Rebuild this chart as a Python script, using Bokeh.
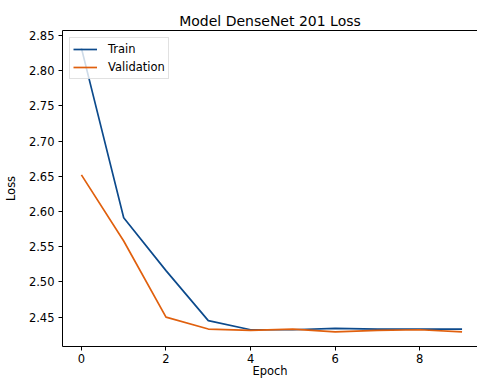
from bokeh.plotting import figure
from bokeh.models import LinearAxis, FixedTicker, Range1d, Legend, LegendItem, NumeralTickFormatter
from bokeh.embed import file_html
from bokeh.resources import INLINE

epochs = [0, 1, 2, 3, 4, 5, 6, 7, 8, 9]
train_loss = [2.832, 2.591, 2.516, 2.445, 2.432, 2.432, 2.434, 2.433, 2.433, 2.433]
val_loss = [2.652, 2.558, 2.450, 2.433, 2.431, 2.433, 2.429, 2.431, 2.432, 2.429]
x_ticks = [0, 2, 4, 6, 8]
y_ticks = [2.45, 2.50, 2.55, 2.60, 2.65, 2.70, 2.75, 2.80, 2.85]

FONT = "DejaVu Sans"

p = figure(width=477, height=380, output_backend="svg", toolbar_location=None,
           x_range=Range1d(-0.447, 9.365), y_range=Range1d(2.4082, 2.857),
           min_border_left=60, min_border_right=0, min_border_top=30, min_border_bottom=0,
           title="Model DenseNet 201 Loss")
p.title.align = "center"
p.title.text_font = FONT
p.title.text_font_size = "14px"
p.title.text_font_style = "normal"
p.title.text_color = "black"
p.title.standoff = 4

p.grid.visible = False
p.outline_line_color = None
p.background_fill_color = "white"
p.border_fill_color = "white"

for ax in [p.xaxis[0], p.yaxis[0]]:
    ax.axis_line_color = "black"
    ax.axis_line_width = 1
    ax.major_tick_line_color = "black"
    ax.major_tick_out = 4
    ax.major_tick_in = 0
    ax.minor_tick_line_color = None
    ax.major_label_text_font = FONT
    ax.major_label_text_font_size = "11.5px"
    ax.major_label_text_color = "black"
    ax.axis_label_text_font = FONT
    ax.axis_label_text_font_size = "11.5px"
    ax.axis_label_text_font_style = "normal"
    ax.axis_label_text_color = "black"

p.xaxis[0].ticker = FixedTicker(ticks=x_ticks)
p.yaxis[0].ticker = FixedTicker(ticks=y_ticks)
p.yaxis[0].formatter = NumeralTickFormatter(format="0.00")
p.xaxis[0].axis_label = "Epoch"
p.yaxis[0].axis_label = "Loss"
p.xaxis[0].major_label_standoff = 3
p.xaxis[0].axis_label_standoff = -2
p.yaxis[0].major_label_standoff = 4
p.yaxis[0].axis_label_standoff = 8

top = LinearAxis(ticker=FixedTicker(ticks=[]), axis_line_color="black", axis_line_width=1,
                 major_label_text_font_size="0px", major_tick_line_color=None,
                 minor_tick_line_color=None)
p.add_layout(top, "above")

r1 = p.line(epochs, train_loss, line_color="#0c4a8c", line_width=1.7)
r2 = p.line(epochs, val_loss, line_color="#e0600e", line_width=1.7)

legend = Legend(items=[LegendItem(label="Train", renderers=[r1]),
                       LegendItem(label="Validation", renderers=[r2])],
                location="top_left")
legend.label_text_font = FONT
legend.label_text_font_size = "11.5px"
legend.label_text_color = "black"
legend.border_line_color = "#c4c4c4"
legend.border_line_width = 1
legend.background_fill_alpha = 0.8
legend.glyph_width = 24
legend.glyph_height = 16
legend.label_height = 16
legend.spacing = 2
legend.padding = 3
legend.margin = 7
legend.label_standoff = 11
p.add_layout(legend)

open("out.html", "w").write(file_html(p, INLINE))
